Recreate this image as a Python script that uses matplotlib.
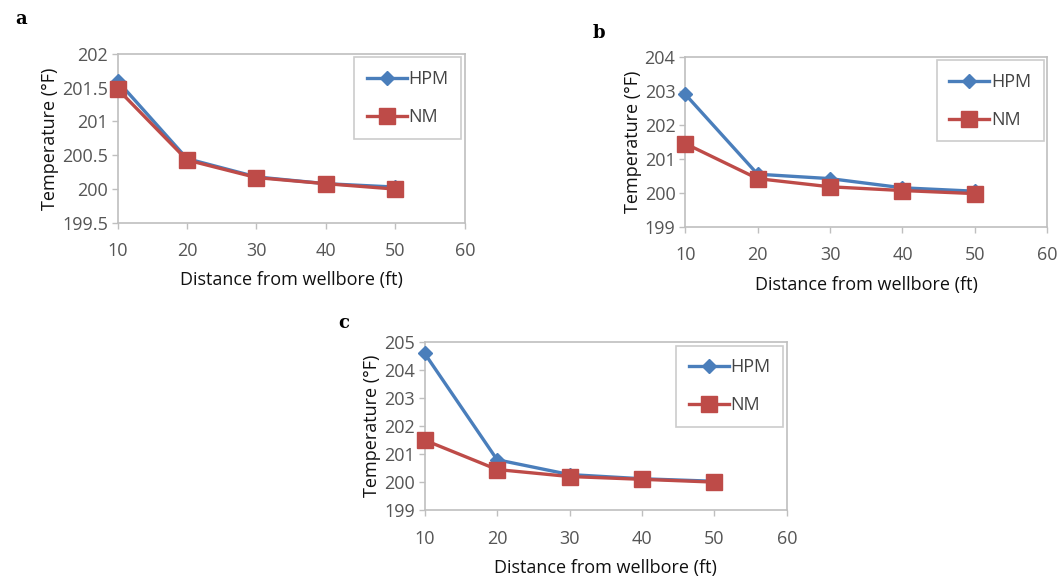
import matplotlib.pyplot as plt

distance = [10, 20, 30, 40, 50]

hpm_a = [201.60, 200.45, 200.18, 200.08, 200.03]
nm_a = [201.48, 200.43, 200.17, 200.08, 200.00]

hpm_b = [202.90, 200.55, 200.42, 200.15, 200.05]
nm_b = [201.45, 200.42, 200.18, 200.07, 199.98]

hpm_c = [204.60, 200.80, 200.27, 200.12, 200.03]
nm_c = [201.50, 200.45, 200.20, 200.10, 200.00]

ylims = [(199.5, 202), (199, 204), (199, 205)]
ysteps = [0.5, 1, 1]

BLUE = "#4a7ebb"
RED = "#be4b48"
FRAME = "#bfbfbf"

plt.rcParams["font.family"] = ["Open Sans", "DejaVu Sans"]

fig = plt.figure(figsize=(10.59, 5.79), dpi=100)

positions = [
    [0.111, 0.615, 0.328, 0.292],
    [0.647, 0.608, 0.342, 0.294],
    [0.401, 0.119, 0.342, 0.290],
]
panels = [(hpm_a, nm_a), (hpm_b, nm_b), (hpm_c, nm_c)]
letters = ["a", "b", "c"]
letter_pos = [(0.014, 0.968), (0.560, 0.943), (0.319, 0.443)]


def draw_panel(ax, hpm, nm, ylim, step):
    ax.plot(distance, hpm, color=BLUE, lw=2.4, marker="D", ms=7,
            mec=BLUE, mfc=BLUE, label="HPM", clip_on=False, zorder=3)
    ax.plot(distance, nm, color=RED, lw=2.4, marker="s", ms=11,
            mec=RED, mfc=RED, label="NM", clip_on=False, zorder=4)
    ax.set_xlim(10, 60)
    ax.set_ylim(*ylim)
    ax.set_xticks(range(10, 61, 10))
    n = int(round((ylim[1] - ylim[0]) / step))
    ticks = [ylim[0] + i * step for i in range(n + 1)]
    ax.set_yticks(ticks)
    ax.set_yticklabels([f"{t:g}" for t in ticks])
    for s in ax.spines.values():
        s.set_color(FRAME)
        s.set_linewidth(1.2)
    ax.tick_params(colors=FRAME, labelcolor="#555555", labelsize=13,
                   length=4, width=1)
    ax.tick_params(axis="x", pad=10)
    ax.tick_params(axis="y", pad=3)
    ax.set_xlabel("Distance from wellbore (ft)", fontsize=13,
                  color="#111111", labelpad=8)
    ax.set_ylabel("Temperature (°F)", fontsize=13, color="#111111",
                  labelpad=2)
    leg = ax.legend(loc="upper right", fontsize=13, frameon=True,
                    fancybox=False, borderpad=0.7, labelspacing=1.1,
                    handlelength=2.2, handletextpad=0.1,
                    borderaxespad=0.2, edgecolor=FRAME)
    leg.get_frame().set_linewidth(1.2)
    for t in leg.get_texts():
        t.set_color("#444444")


for i in range(3):
    ax = fig.add_axes(positions[i])
    draw_panel(ax, panels[i][0], panels[i][1], ylims[i], ysteps[i])
    fig.text(letter_pos[i][0], letter_pos[i][1], letters[i],
             fontsize=13, fontweight="bold", family="DejaVu Serif",
             ha="left", va="center")

fig.savefig("out.png", dpi=100)
